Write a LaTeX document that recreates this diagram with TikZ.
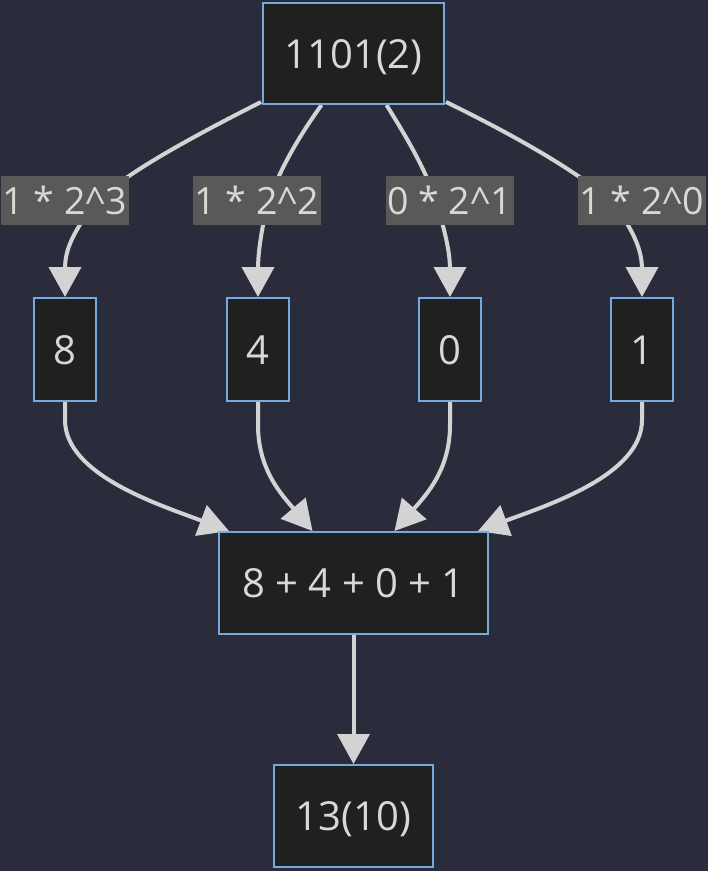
\documentclass[tikz,border=0pt]{standalone}
\usepackage{fontspec}
\setmainfont{Open Sans}
\usetikzlibrary{arrows.meta}
\definecolor{canvas}{HTML}{2B2C3B}
\definecolor{boxfill}{HTML}{1F2020}
\definecolor{boxline}{HTML}{74AADC}
\definecolor{ink}{HTML}{D8D8D8}
\definecolor{wire}{HTML}{D3D3D3}
\definecolor{tagfill}{HTML}{595959}
\pgfdeclarelayer{bg}
\pgfdeclarelayer{wires}
\pgfsetlayers{bg,wires,main}
\tikzset{
  box/.style={draw=boxline, line width=2pt, fill=boxfill, text=ink, inner sep=0pt,
    font=\fontsize{40}{48}\selectfont, text height=29pt, text depth=0pt},
  tag/.style={fill=tagfill, text=ink, inner sep=0pt, minimum width=128pt, minimum height=49pt,
    font=\fontsize{37.5}{45}\selectfont, text height=27pt, text depth=0pt},
  wire/.style={draw=wire, line width=4pt, -{Triangle[length=30pt,width=32pt]}},
}
\begin{document}
\begin{tikzpicture}[x=1pt,y=-1pt]
\begin{pgfonlayer}{bg}
  \fill[canvas] (0,0) rectangle (708,871);
\end{pgfonlayer}
\useasboundingbox (0,0) rectangle (708,871);

% binary input
\node[box, minimum width=181pt, minimum height=101pt] (t) at (353.5,53.5) {1101(2)};

% positional weights
\node[tag] (l1) at (65,200.5)  {1 * 2\^{}3};
\node[tag] (l2) at (257,200.5) {1 * 2\^{}2};
\node[tag] (l3) at (449.5,200.5) {0 * 2\^{}1};
\node[tag] (l4) at (642,200.5) {1 * 2\^{}0};

% digit values
\node[box, minimum width=62pt, minimum height=103pt] (m1) at (65,349.5)  {8};
\node[box, minimum width=62pt, minimum height=103pt] (m2) at (258,349.5) {4};
\node[box, minimum width=62pt, minimum height=103pt] (m3) at (450,349.5) {0};
\node[box, minimum width=62pt, minimum height=103pt] (m4) at (642,349.5) {1};

% sum and result
\node[box, minimum width=269pt, minimum height=102pt] (s) at (353.5,583) {8 + 4 + 0 + 1};
\node[box, minimum width=159pt, minimum height=102pt] (b) at (353.5,816) {13(10)};

\begin{pgfonlayer}{wires}
  % input to each digit value, through its weight label
  \draw[wire] ([shift={(-1,-3)}]t.south west) .. controls (200,133) and (110,180) .. (90,210)
    .. controls (68,240) and (65,255) .. (65,270) -- (m1.north);
  \draw[wire] ([xshift=-32pt]t.south) .. controls (300,135) and (275,175) .. (265,215)
    .. controls (260,240) and (258,255) .. (258,270) -- (m2.north);
  \draw[wire] ([xshift=33pt]t.south) .. controls (405,135) and (430,175) .. (440,215)
    .. controls (447,240) and (450,255) .. (450,270) -- (m3.north);
  \draw[wire] ([shift={(1,-3)}]t.south east) .. controls (510,133) and (595,180) .. (618,210)
    .. controls (638,238) and (642,255) .. (642,270) -- (m4.north);

  % digit values into the sum
  \draw[wire] (m1.south) -- (65,420) .. controls (65,475) and (160,505) .. ([xshift=11pt]s.north west);
  \draw[wire] (m2.south) -- (258,425) .. controls (258,470) and (282,495) .. ([xshift=-41pt]s.north);
  \draw[wire] (m3.south) -- (450,425) .. controls (450,470) and (426,495) .. ([xshift=41pt]s.north);
  \draw[wire] (m4.south) -- (642,420) .. controls (642,475) and (548,505) .. ([xshift=-11pt]s.north east);

  % sum to decimal result
  \draw[wire] (s.south) -- (b.north);
\end{pgfonlayer}
\end{tikzpicture}
\end{document}
